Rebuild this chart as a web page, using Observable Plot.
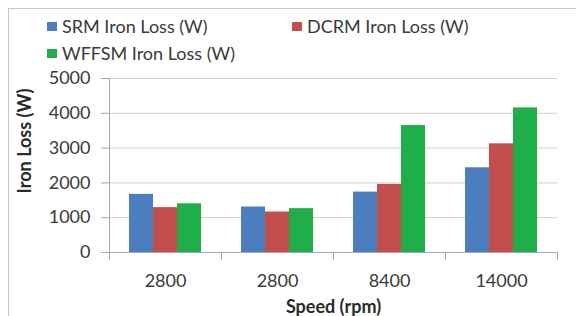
<!DOCTYPE html>
<html>
<head>
<meta charset="utf-8">
<script src="https://cdn.jsdelivr.net/npm/d3@7"></script>
<script src="https://cdn.jsdelivr.net/npm/@observablehq/plot@0.6"></script>
<style>
  html, body { margin: 0; padding: 0; background: #fff; }
  #wrap { position: relative; width: 576px; height: 316px; overflow: hidden; font-family: Lato, "Open Sans", sans-serif; color: #3a3a3a; }
  #box { position: absolute; left: 8px; top: 8px; width: 600px; height: 400px; border-left: 1.5px solid #c6c6c6; border-top: 1.5px solid #c6c6c6; }
  #legend { position: relative; height: 66px; }
  .item { position: absolute; display: flex; align-items: center; font-size: 18px; line-height: 20px; white-space: nowrap; }
  .sw { width: 10px; height: 9px; margin-right: 5px; }
  #chart { position: relative; }
  #chart svg { overflow: visible; }
</style>
</head>
<body>
<div id="wrap">
  <div id="box"></div>
  <div id="legend"></div>
  <div id="chart"></div>
</div>
<script>
const speedLabels = ["2800", "2800", "8400", "14000"];
const seriesNames = ["SRM Iron Loss (W)", "DCRM Iron Loss (W)", "WFFSM Iron Loss (W)"];
const srmLoss = [1670, 1307, 1736, 2435];
const dcrmLoss = [1290, 1163, 1957, 3123];
const wffsmLoss = [1400, 1260, 3647, 4155];
const seriesColors = ["#4a7ebf", "#c24f4d", "#1fae4a"];
const yTicks = [0, 1000, 2000, 3000, 4000, 5000];
const xTitle = "Speed (rpm)";
const yTitle = "Iron Loss (W)";

const seriesValues = [srmLoss, dcrmLoss, wffsmLoss];
const table = [];
speedLabels.forEach((s, g) => {
  seriesNames.forEach((name, k) => {
    table.push({g, series: name, value: seriesValues[k][g]});
  });
});

// legend
const legendPos = [[47, 16], [292, 16], [47, 43]];
const legend = document.getElementById("legend");
seriesNames.forEach((name, k) => {
  const it = document.createElement("div");
  it.className = "item";
  it.style.left = legendPos[k][0] + "px";
  it.style.top = legendPos[k][1] + "px";
  const sw = document.createElement("span");
  sw.className = "sw";
  sw.style.background = seriesColors[k];
  const tx = document.createElement("span");
  tx.textContent = name;
  it.appendChild(sw);
  it.appendChild(tx);
  legend.appendChild(it);
});

const axisGray = "#a8a8a8";
const plot = Plot.plot({
  width: 576,
  height: 250,
  marginTop: 12,
  marginBottom: 64,
  marginLeft: 108,
  marginRight: 18,
  style: {fontFamily: "Lato, 'Open Sans', sans-serif", fontSize: "18px", color: "#3a3a3a", background: "transparent"},
  fx: {domain: [0, 1, 2, 3], padding: 0, axis: null},
  x: {domain: seriesNames, paddingInner: 0, paddingOuter: 0.75, axis: null},
  y: {domain: [0, 5000], axis: null},
  color: {domain: seriesNames, range: seriesColors},
  marks: [
    Plot.gridY(yTicks, {stroke: "#cfcfcf", strokeOpacity: 1}),
    Plot.barY(table, {fx: "g", x: "series", y: "value", fill: "series"}),
    Plot.ruleY([0], {stroke: axisGray}),
    Plot.frame({anchor: "left", facetAnchor: "left", stroke: axisGray}),
    Plot.frame({anchor: "left", stroke: axisGray, insetTop: 174, insetBottom: -7}),
    Plot.frame({anchor: "right", facetAnchor: "right", stroke: axisGray, insetTop: 174, insetBottom: -7}),
    Plot.axisY(yTicks, {anchor: "left", tickSize: 8, tickPadding: 11, tickFormat: d => String(d), label: null, stroke: axisGray, fill: "#3a3a3a"}),
    Plot.axisFx({anchor: "bottom", tickSize: 0, tickPadding: 22, tickFormat: i => speedLabels[i], label: xTitle, labelAnchor: "center", labelOffset: 60, labelArrow: "none", fill: "#3a3a3a"})
  ]
});
document.getElementById("chart").appendChild(plot);
const svg = d3.select(plot.tagName.toLowerCase() === "svg" ? plot : plot.querySelector("svg"));
// bold axis title
svg.selectAll("g[aria-label='fx-axis label'] text").attr("font-weight", "bold").attr("fill", "#2a2a2a");
// y axis title (rotated), centred where the reference shows it
const yScale = plot.scale("y");
svg.append("text")
  .attr("transform", `translate(24,${(yScale.apply(5000) + yScale.apply(0)) / 2 - 24}) rotate(-90)`)
  .attr("text-anchor", "middle")
  .attr("dominant-baseline", "central")
  .attr("font-weight", "bold")
  .attr("fill", "#2a2a2a")
  .attr("font-size", "18px")
  .text(yTitle);
</script>
</body>
</html>
